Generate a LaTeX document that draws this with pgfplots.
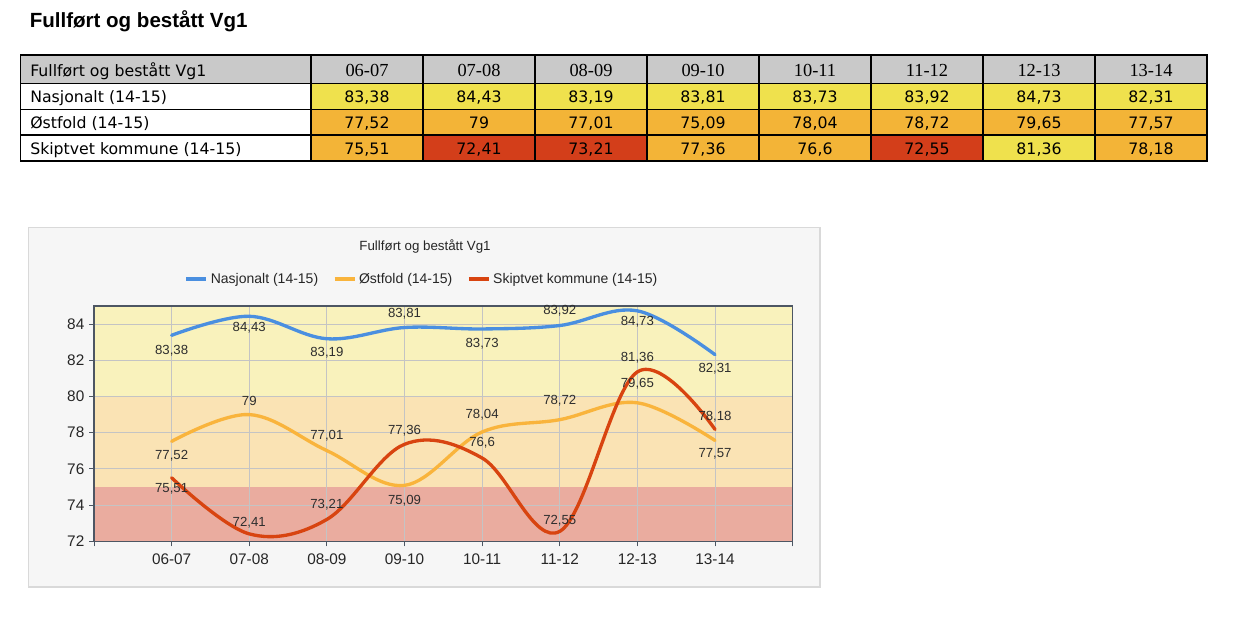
\documentclass[border=0pt]{standalone}
\usepackage{pgfplots}
\pgfplotsset{compat=1.18}
\usepackage{pgfplotstable}
\usepackage{fontspec}
\setmainfont{Liberation Sans}
\newfontfamily\verd{DejaVu Sans}
\newfontfamily\tnr{Liberation Serif}

\definecolor{hdrgray}{HTML}{C9C9C9}
\definecolor{ty}{HTML}{EFE14D}
\definecolor{to}{HTML}{F3B437}
\definecolor{tr}{HTML}{D33E1A}
\definecolor{panelbg}{HTML}{F6F6F6}
\definecolor{panelborder}{HTML}{D9D9D9}
\definecolor{bandY}{HTML}{F9F2BC}
\definecolor{bandO}{HTML}{FAE3B4}
\definecolor{bandR}{HTML}{EAAC9F}
\definecolor{gridgray}{HTML}{C4C4C4}
\definecolor{axisgray}{HTML}{4D5663}
\definecolor{cblue}{HTML}{4A8FE0}
\definecolor{corange}{HTML}{F9B43C}
\definecolor{cred}{HTML}{D84410}

\pgfplotsset{layers/mylayers/.define layer set={pre,axis background,axis grid,axis ticks,axis lines,axis tick labels,main,axis descriptions,axis foreground}{}}

\pgfplotstableread{
x y dy lab
1 83.38 -11.25 83,38
2 84.43 -8.25 84,43
3 83.19 -10.5 83,19
4 83.81 10.5 83,81
5 83.73 -11.25 83,73
6 83.92 11.25 83,92
7 84.73 -8.25 84,73
8 82.31 -10.5 82,31
}\nas
\pgfplotstableread{
x y dy lab
1 77.52 -10.5 77,52
2 79.00 10.5 79
3 77.01 11.5 77,01
4 75.09 -11.25 75,09
5 78.04 13 78,04
6 78.72 14.5 78,72
7 79.65 14.5 79,65
8 77.57 -9.75 77,57
}\ost
\pgfplotstableread{
x y dy lab
1 75.51 -8.25 75,51
2 72.41 8.5 72,41
3 73.21 11.25 73,21
4 77.36 10.5 77,36
5 76.60 11.25 76,6
6 72.55 8.25 72,55
7 81.36 10.5 81,36
8 78.18 9.5 78,18
}\ski

\begin{document}
\begin{tikzpicture}
\pgfplotsset{set layers=mylayers}
\begin{pgfonlayer}{pre}
\begin{scope}[x=0.75pt,y=-0.75pt]
  \fill[white] (0,0) rectangle (1239,639);
  % title
  \node[anchor=base west, inner sep=0pt, font=\bfseries\fontsize{15.4}{18}\selectfont] at (29.5,27.3) {Fullført og bestått Vg1};
  % table
  \fill[hdrgray] (20.5,55) rectangle (1207,83.3);
  \foreach \k/\v/\c in {1/{83,38}/ty,2/{84,43}/ty,3/{83,19}/ty,4/{83,81}/ty,5/{83,73}/ty,6/{83,92}/ty,7/{84,73}/ty,8/{82,31}/ty}{
    \fill[\c] ({311+(\k-1)*112},83.3) rectangle ({311+\k*112},109.3);
    \node[anchor=base, inner sep=0pt, font=\verd\fontsize{11.8}{14}\selectfont] at ({255+112*\k},102.8) {\v};
  }
  \foreach \k/\v/\c in {1/{77,52}/to,2/{79}/to,3/{77,01}/to,4/{75,09}/to,5/{78,04}/to,6/{78,72}/to,7/{79,65}/to,8/{77,57}/to}{
    \fill[\c] ({311+(\k-1)*112},109.3) rectangle ({311+\k*112},135);
    \node[anchor=base, inner sep=0pt, font=\verd\fontsize{11.8}{14}\selectfont] at ({255+112*\k},128.6) {\v};
  }
  \foreach \k/\v/\c in {1/{75,51}/to,2/{72,41}/tr,3/{73,21}/tr,4/{77,36}/to,5/{76,6}/to,6/{72,55}/tr,7/{81,36}/ty,8/{78,18}/to}{
    \fill[\c] ({311+(\k-1)*112},135) rectangle ({311+\k*112},161);
    \node[anchor=base, inner sep=0pt, font=\verd\fontsize{11.8}{14}\selectfont] at ({255+112*\k},154.4) {\v};
  }
  \foreach \k/\y in {1/06-07,2/07-08,3/08-09,4/09-10,5/10-11,6/11-12,7/12-13,8/13-14}{
    \node[anchor=base, inner sep=0pt, font=\tnr\fontsize{13.8}{16}\selectfont] at ({255+112*\k},76.6) {\y};
  }
  \node[anchor=base west, inner sep=0pt, font=\verd\fontsize{11.8}{14}\selectfont] at (30,76.2) {Fullført og bestått Vg1};
  \node[anchor=base west, inner sep=0pt, font=\verd\fontsize{11.8}{14}\selectfont] at (30,102.8) {Nasjonalt (14-15)};
  \node[anchor=base west, inner sep=0pt, font=\verd\fontsize{11.8}{14}\selectfont] at (30,128.6) {Østfold (14-15)};
  \node[anchor=base west, inner sep=0pt, font=\verd\fontsize{11.8}{14}\selectfont] at (30,154.4) {Skiptvet kommune (14-15)};
  \draw[black, line width=0.8pt] (20.5,55) rectangle (1207,161);
  \foreach \yy in {83.3,109.3,135}{\draw[black, line width=0.8pt] (20.5,\yy) -- (1207,\yy);}
  \foreach \k in {0,...,7}{\draw[black, line width=0.8pt] ({311+112*\k},55) -- ({311+112*\k},161);}
  % chart panel
  \filldraw[fill=panelbg, draw=panelborder, line width=1.2pt] (28.5,227.5) rectangle (820,587);
  \node[font=\fontsize{10}{12}\selectfont, text=black!85] at (425,247) {Fullført og bestått Vg1};
\end{scope}
\end{pgfonlayer}

\begin{axis}[
  at={(70.5pt,-405.975pt)}, anchor=south west,
  scale only axis, width=524pt, height=176.5pt,
  xmin=0, xmax=9, ymin=72, ymax=85,
  xtick={0,...,9},
  xticklabels={,06-07,07-08,08-09,09-10,10-11,11-12,12-13,13-14,},
  ytick={72,74,...,84},
  xtick pos=bottom, ytick pos=left,
  grid=major,
  major grid style={draw=gridgray, line width=0.75pt},
  tick align=outside, major tick length=3.75pt,
  every tick/.style={draw=axisgray, line width=0.75pt},
  axis line style={draw=axisgray, line width=0.9pt},
  set layers=mylayers,
  ticklabel style={font=\fontsize{11.5}{13}\selectfont, text=black!85},
  xticklabel style={yshift=-2pt},
  /pgf/number format/assume math mode=true,
  legend columns=3,
  legend style={draw=none, fill=none, at={(0.47,1.1147)}, anchor=center,
    font=\fontsize{10.5}{12}\selectfont, text=black!85,
    /tikz/every even column/.append style={column sep=9pt}},
  legend image code/.code={\draw[#1] (0pt,0pt) -- (15pt,0pt);},
  datal/.style={smooth, tension=0.6, line width=2.5pt, line cap=round, no markers, forget plot,
    nodes near coords, point meta=explicit symbolic,
    visualization depends on={\thisrow{dy}\as\dy},
    every node near coord/.append style={anchor=center, yshift=\dy pt, inner sep=0pt,
      font=\fontsize{9.9}{11}\selectfont, text=black!82}},
]
\addplot[on layer=axis background, fill=bandY, draw=none, forget plot] coordinates {(0,80) (9,80) (9,85) (0,85)} -- cycle;
\addplot[on layer=axis background, fill=bandO, draw=none, forget plot] coordinates {(0,75) (9,75) (9,80) (0,80)} -- cycle;
\addplot[on layer=axis background, fill=bandR, draw=none, forget plot] coordinates {(0,72) (9,72) (9,75) (0,75)} -- cycle;
\addlegendimage{draw=cblue, line width=2.6pt}
\addlegendentry{Nasjonalt (14-15)}
\addlegendimage{draw=corange, line width=2.6pt}
\addlegendentry{Østfold (14-15)}
\addlegendimage{draw=cred, line width=2.6pt}
\addlegendentry{Skiptvet kommune (14-15)}
\addplot[datal, draw=cblue] table[x=x, y=y, meta=lab] {\nas};
\addplot[datal, draw=corange] table[x=x, y=y, meta=lab] {\ost};
\addplot[datal, draw=cred] table[x=x, y=y, meta=lab] {\ski};
\end{axis}
\end{tikzpicture}
\end{document}
